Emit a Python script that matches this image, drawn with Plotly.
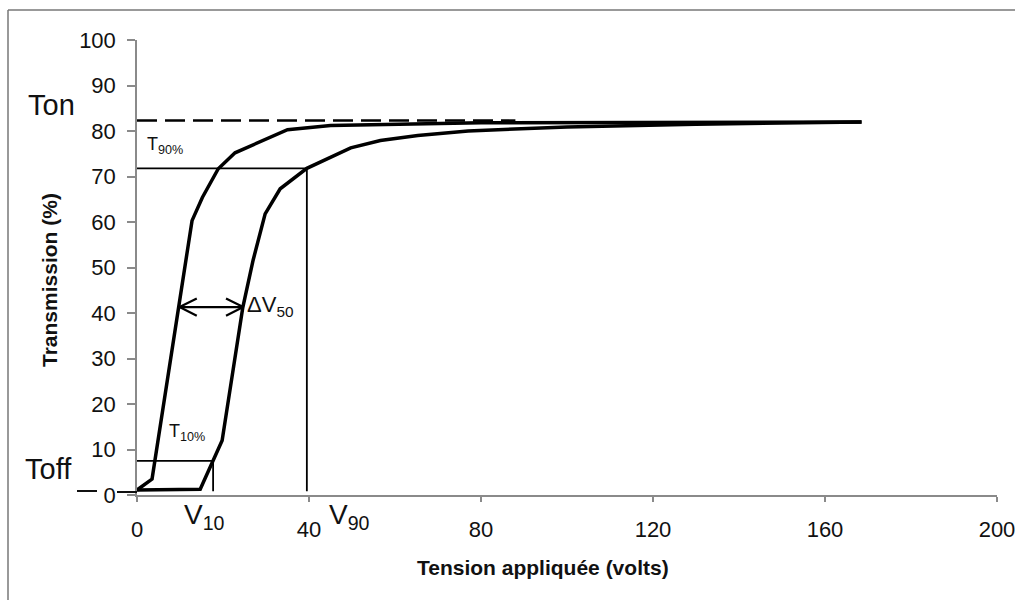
import plotly.graph_objects as go

# ---- data ----
on_v = [0, 3.5, 12.8, 15.2, 18.9, 22.8, 35, 45, 80, 168.5]
on_t = [1.1, 3.5, 60.3, 65.4, 71.7, 75.2, 80.3, 81.2, 81.8, 82]

off_v = [0, 14.7, 19.8, 24.6, 27.0, 29.8, 33.3, 39.5, 49.7, 56.6, 65.3, 77, 100, 130, 168.5]
off_t = [1.1, 1.25, 12, 41.2, 51.6, 61.8, 67.3, 71.8, 76.3, 77.9, 79, 80, 80.9, 81.5, 82]

t_on = 82.3          # Ton level (dashed)
t_on_end = 88        # dashed line end (volts)
t90 = 71.8
v90 = 39.5
t10 = 7.5
v10 = 17.7
v_floor = 0.8
dv50_level = 41.3
dv50_left = 9.9
dv50_right = 24.7

x_ticks = [0, 40, 80, 120, 160, 200]
y_ticks = [0, 10, 20, 30, 40, 50, 60, 70, 80, 90, 100]

# ---- layout geometry (pixels of the page) ----
L, R, T, B = 137, 18, 40, 105
W, H = 1015, 600
PW, PH = W - L - R, H - T - B


def px_x(px):
    return (px - L) / PW


def px_y(py):
    return (H - B - py) / PH


FONT = "Liberation Sans, Arial, sans-serif"
thick = dict(color="black", width=3.5)
thin = dict(color="black", width=1.8)

fig = go.Figure()
fig.add_trace(go.Scatter(x=on_v, y=on_t, mode="lines", line=thick, hoverinfo="skip"))
fig.add_trace(go.Scatter(x=off_v, y=off_t, mode="lines", line=thick, hoverinfo="skip"))

# Ton dashed line
fig.add_trace(go.Scatter(x=[0, t_on_end], y=[t_on, t_on], mode="lines",
                         line=dict(color="black", width=2.5, dash="20px,8px"), hoverinfo="skip"))
# T90 / V90 construction
fig.add_trace(go.Scatter(x=[0, v90, v90], y=[t90, t90, v_floor], mode="lines", line=thin, hoverinfo="skip"))
# T10 / V10 construction
fig.add_trace(go.Scatter(x=[0, v10, v10], y=[t10, t10, v_floor], mode="lines", line=thin, hoverinfo="skip"))
# Delta V50 double arrow
ah_x, ah_y = 4.0, 1.9
fig.add_trace(go.Scatter(x=[dv50_left, dv50_right], y=[dv50_level, dv50_level], mode="lines",
                         line=dict(color="black", width=2.2), hoverinfo="skip"))
fig.add_trace(go.Scatter(x=[dv50_left + ah_x, dv50_left, dv50_left + ah_x],
                         y=[dv50_level + ah_y, dv50_level, dv50_level - ah_y], mode="lines",
                         line=dict(color="black", width=2.2), hoverinfo="skip"))
fig.add_trace(go.Scatter(x=[dv50_right - ah_x, dv50_right, dv50_right - ah_x],
                         y=[dv50_level + ah_y, dv50_level, dv50_level - ah_y], mode="lines",
                         line=dict(color="black", width=2.2), hoverinfo="skip"))

axis_common = dict(showgrid=False, zeroline=False, showline=True, linecolor="#8a8a8a", linewidth=1.5,
                   ticks="outside", tickcolor="#8a8a8a", tickwidth=1.5, automargin=False,
                   ticklabeloverflow="allow",
                   tickfont=dict(family=FONT, size=22, color="#111"))
fig.update_xaxes(range=[0, 200], tickvals=x_ticks, ticklen=5, ticklabelstandoff=9, **axis_common)
fig.update_yaxes(range=[0, 100], tickvals=y_ticks, ticklen=8, ticklabelstandoff=7, **axis_common)

ann = []
def text(px, py, s, size, xanchor="center", yanchor="middle", bold=False, angle=0):
    ann.append(dict(x=px_x(px), y=px_y(py), xref="paper", yref="paper", text=s, showarrow=False,
                    xanchor=xanchor, yanchor=yanchor, textangle=angle,
                    font=dict(family=FONT, size=size, color="#111",
                              weight="bold" if bold else "normal")))

text(51, 105, "Ton", 29)
text(48, 469, "Toff", 29)
text(165, 146, "T<sub>90%</sub>", 18)
text(187, 432, "T<sub>10%</sub>", 18)
text(245, 306, "ΔV<sub>50</sub>", 22, xanchor="left")
text(204, 516, "V<sub>10</sub>", 28)
text(349, 516, "V<sub>90</sub>", 28)
text(543, 567, "Tension appliquée (volts)", 21, bold=True)
text(49, 280, "Transmission (%)", 21, bold=True, angle=-90)

shapes = [
    # scanned frame (left and top edges)
    dict(type="line", xref="paper", yref="paper", x0=px_x(8), x1=px_x(8), y0=px_y(10), y1=px_y(600),
         line=dict(color="#777", width=1.5)),
    dict(type="line", xref="paper", yref="paper", x0=px_x(8), x1=px_x(1015), y0=px_y(10), y1=px_y(10),
         line=dict(color="#777", width=1.5)),
    # Toff marks around the 0 label
    dict(type="line", xref="paper", yref="paper", x0=px_x(77), x1=px_x(97), y0=px_y(491), y1=px_y(491),
         line=dict(color="#111", width=2)),
    dict(type="line", xref="paper", yref="paper", x0=px_x(117), x1=px_x(137), y0=px_y(492), y1=px_y(492),
         line=dict(color="#111", width=2)),
]

fig.update_layout(width=W, height=H, margin=dict(l=L, r=R, t=T, b=B), showlegend=False,
                  plot_bgcolor="white", paper_bgcolor="white", annotations=ann, shapes=shapes)

fig.write_html("out.html", config={"displayModeBar": False},
               post_script="document.body.style.margin='0';document.body.style.overflow='hidden';")
